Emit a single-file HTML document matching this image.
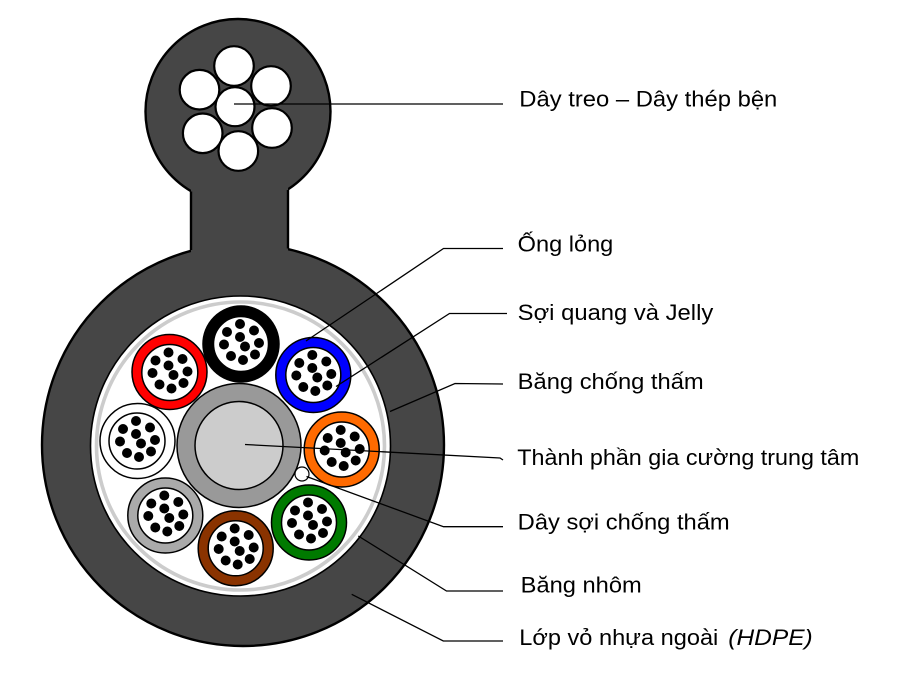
<!DOCTYPE html>
<html>
<head>
<meta charset="utf-8">
<style>
  html, body { margin:0; padding:0; background:#fff; }
  svg { display:block; }
  text { font-family: "Liberation Sans", Arial, sans-serif; font-size:22px; fill:#000; }
</style>
</head>
<body>
<svg width="914" height="679" viewBox="0 0 914 679" xmlns="http://www.w3.org/2000/svg">
  <defs>
    <g id="fib">
      <circle cx="-1.5" cy="-20.5" r="5"/>
      <circle cx="-14.5" cy="-12.5" r="5"/>
      <circle cx="12.5" cy="-14" r="5"/>
      <circle cx="-1.5" cy="-7.5" r="5"/>
      <circle cx="-17.5" cy="0" r="5"/>
      <circle cx="3.5" cy="2" r="5"/>
      <circle cx="17.5" cy="-1.5" r="5"/>
      <circle cx="-10.5" cy="11.5" r="5"/>
      <circle cx="1.5" cy="15.5" r="5"/>
      <circle cx="13.5" cy="10" r="5"/>
    </g>
  </defs>

  <!-- outer sheath (main) -->
  <circle cx="243" cy="445" r="201" fill="#464646" stroke="#000" stroke-width="2.4"/>
  <!-- suspension head -->
  <circle cx="238" cy="111.5" r="92.5" fill="#464646" stroke="#000" stroke-width="2.4"/>
  <!-- neck -->
  <rect x="191" y="184" width="97" height="74" fill="#464646"/>
  <line x1="191" y1="191.5" x2="191" y2="250" stroke="#000" stroke-width="2.4"/>
  <line x1="288" y1="190" x2="288" y2="248.5" stroke="#000" stroke-width="2.4"/>

  <!-- steel wires -->
  <g fill="#fff" stroke="#000" stroke-width="2.2">
    <circle cx="234" cy="66" r="19.8"/>
    <circle cx="199.5" cy="89.7" r="19.8"/>
    <circle cx="271" cy="86" r="19.8"/>
    <circle cx="202.7" cy="133.3" r="19.8"/>
    <circle cx="272" cy="128" r="19.8"/>
    <circle cx="238.3" cy="151" r="19.8"/>
    <circle cx="235" cy="106.7" r="19.5"/>
  </g>

  <!-- core area -->
  <circle cx="240.5" cy="446" r="150" fill="#fff" stroke="#000" stroke-width="1.6"/>
  <circle cx="240.5" cy="446" r="144" fill="none" stroke="#cccccc" stroke-width="3.6"/>

  <!-- central strength member -->
  <circle cx="239" cy="445.5" r="62" fill="#999999" stroke="#000" stroke-width="1.5"/>
  <circle cx="239" cy="445.5" r="44" fill="#cccccc" stroke="#000" stroke-width="1.5"/>

  <!-- tubes -->
  <g stroke="#000" stroke-width="1.5">
    <circle cx="241" cy="344" r="38" fill="#000"/>
    <circle cx="241" cy="344" r="27.5" fill="#fff"/>
    <circle cx="169.5" cy="372" r="37.5" fill="#ff0000"/>
    <circle cx="169.8" cy="372.5" r="28" fill="#fff"/>
    <circle cx="313.3" cy="375" r="37.5" fill="#0000ff"/>
    <circle cx="313.3" cy="375" r="27.5" fill="#fff"/>
    <circle cx="137.5" cy="441" r="37.5" fill="#fff"/>
    <circle cx="137" cy="441" r="28" fill="#fff"/>
    <circle cx="341.7" cy="449.5" r="37.5" fill="#ff6a00"/>
    <circle cx="341.7" cy="449.5" r="27.5" fill="#fff"/>
    <circle cx="165.3" cy="515.5" r="37.5" fill="#aaaaaa"/>
    <circle cx="165.3" cy="515.5" r="27.5" fill="#fff"/>
    <circle cx="235.7" cy="548.3" r="37.5" fill="#8a3300"/>
    <circle cx="235.7" cy="548.3" r="27.5" fill="#fff"/>
    <circle cx="309" cy="522.5" r="37.5" fill="#007a00"/>
    <circle cx="309" cy="522.5" r="27.5" fill="#fff"/>
    <circle cx="302" cy="474" r="7" fill="#fff" stroke-width="1.2"/>
  </g>
  <g fill="#000">
    <use href="#fib" x="241.5" y="344.5"/>
    <use href="#fib" x="170" y="373"/>
    <use href="#fib" x="313.8" y="375.5"/>
    <use href="#fib" x="137.5" y="441.5"/>
    <use href="#fib" x="342.2" y="450.5"/>
    <use href="#fib" x="165.8" y="516"/>
    <use href="#fib" x="236.2" y="549"/>
    <use href="#fib" x="309.5" y="523"/>
  </g>

  <!-- leader lines -->
  <g fill="none" stroke="#000" stroke-width="1.3">
    <polyline points="234,104 503,104"/>
    <polyline points="306,341 443.5,248.5 503,248.5"/>
    <polyline points="336,386.5 449.5,313.5 507,313.5"/>
    <polyline points="390,411.5 455,383.5 503,384"/>
    <polyline points="245,444.5 500,458 503,460"/>
    <polyline points="306.5,476.5 443.5,526.7 503,526.7"/>
    <polyline points="358.3,536 446.5,591 503,591"/>
    <polyline points="351.7,594.3 443.3,641 503,641"/>
  </g>

  <!-- labels -->
  <text x="519.3" y="106.5" textLength="258" lengthAdjust="spacingAndGlyphs">Dây treo – Dây thép bện</text>
  <text x="517.7" y="251.5" textLength="95.6" lengthAdjust="spacingAndGlyphs">Ống lỏng</text>
  <text x="517.7" y="320" textLength="195.6" lengthAdjust="spacingAndGlyphs">Sợi quang và Jelly</text>
  <text x="517.7" y="389" textLength="186" lengthAdjust="spacingAndGlyphs">Băng chống thấm</text>
  <text x="517.3" y="465" textLength="342" lengthAdjust="spacingAndGlyphs">Thành phần gia cường trung tâm</text>
  <text x="517.7" y="529.5" textLength="212" lengthAdjust="spacingAndGlyphs">Dây sợi chống thấm</text>
  <text x="520.7" y="592.5" textLength="121" lengthAdjust="spacingAndGlyphs">Băng nhôm</text>
  <text x="519.3" y="645" textLength="199" lengthAdjust="spacingAndGlyphs">Lớp vỏ nhựa ngoài</text>
  <text x="728.3" y="645" textLength="84.4" lengthAdjust="spacingAndGlyphs" font-style="italic">(HDPE)</text>
</svg>
</body>
</html>
